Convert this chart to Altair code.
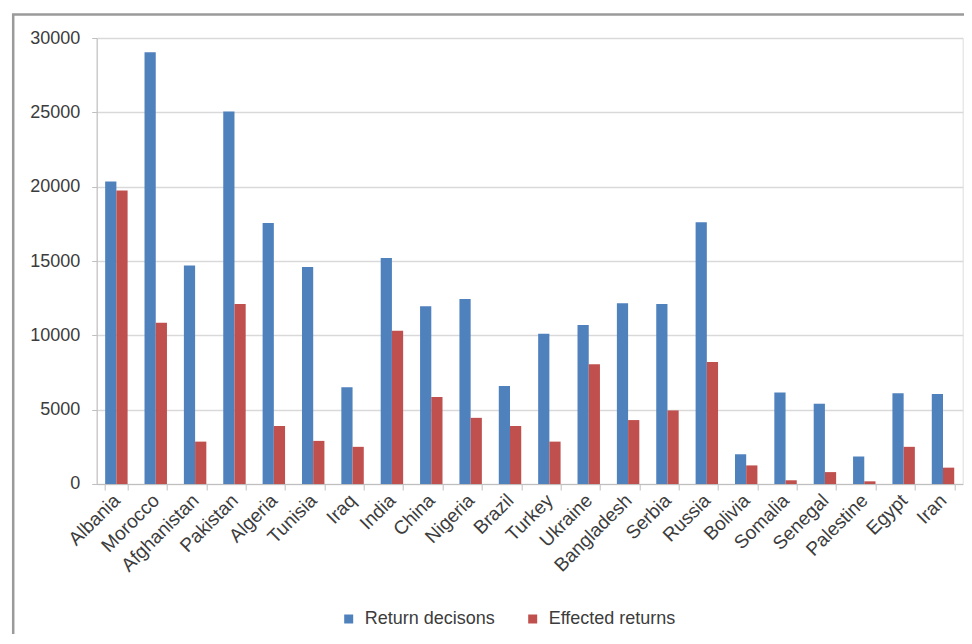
import altair as alt
import pandas as pd

countries = ["Albania", "Morocco", "Afghanistan", "Pakistan", "Algeria", "Tunisia",
             "Iraq", "India", "China", "Nigeria", "Brazil", "Turkey", "Ukraine",
             "Bangladesh", "Serbia", "Russia", "Bolivia", "Somalia", "Senegal",
             "Palestine", "Egypt", "Iran"]
return_decisions = [20350, 29050, 14700, 25050, 17550, 14600, 6500, 15200, 11950,
                    12450, 6600, 10100, 10700, 12150, 12100, 17600, 2000, 6150,
                    5400, 1850, 6100, 6050]
effected_returns = [19750, 10850, 2850, 12100, 3900, 2900, 2500, 10300, 5850,
                    4450, 3900, 2850, 8050, 4300, 4950, 8200, 1250, 250,
                    800, 180, 2500, 1100]
series = ["Return decisons", "Effected returns"]
y_ticks = [0, 5000, 10000, 15000, 20000, 25000, 30000]

rows = []
for c, a, b in zip(countries, return_decisions, effected_returns):
    rows.append({"country": c, "series": series[0], "value": a})
    rows.append({"country": c, "series": series[1], "value": b})
df = pd.DataFrame(rows)

FONT = "Liberation Sans"
TXT = "#3c3c3c"
W, H = 866, 446

bars = alt.Chart(df).mark_bar().encode(
    x=alt.X("country:N", sort=countries,
            scale=alt.Scale(paddingInner=0.43, paddingOuter=0.215),
            axis=alt.Axis(title=None, labelAngle=-45, labelAlign="right",
                          labelBaseline="middle", labelPadding=7,
                          tickBand="extent", tickSize=6, tickColor="#bfbfbf",
                          domainColor="#bfbfbf", labelFont=FONT, labelFontSize=19,
                          labelColor=TXT, grid=False)),
    xOffset=alt.XOffset("series:N", sort=series,
                        scale=alt.Scale(paddingInner=0, paddingOuter=0)),
    y=alt.Y("value:Q", scale=alt.Scale(domain=[0, 30000], nice=False),
            axis=alt.Axis(title=None, values=y_ticks, format="d", grid=True,
                          gridColor="#d9d9d9", gridWidth=1.5, domainColor="#bfbfbf",
                          tickColor="#bfbfbf", tickSize=5, labelPadding=12,
                          labelFont=FONT, labelFontSize=18, labelColor=TXT)),
    color=alt.Color("series:N", sort=series,
                    scale=alt.Scale(domain=series, range=["#4F81BD", "#C0504D"]),
                    legend=alt.Legend(title=None, orient="none", direction="horizontal",
                                      legendX=243, legendY=572, symbolType="square",
                                      symbolSize=81, symbolStrokeWidth=0,
                                      labelFont=FONT, labelFontSize=18, labelColor=TXT,
                                      labelOffset=7, columnPadding=28)),
)

frame = alt.Chart(pd.DataFrame({"k": [0]})).mark_rect(
    fill=None, stroke="#9a9a9a", strokeWidth=2.5, clip=False
).encode(x=alt.value(-83.5), x2=alt.value(W + 60),
         y=alt.value(-23.5), y2=alt.value(H + 300))

chart = alt.layer(bars, frame).properties(
    width=W, height=H,
    autosize=alt.AutoSizeParams(type="none"),
    padding={"left": 88.7, "top": 30, "right": 1, "bottom": 150},
).configure_view(stroke=None).configure(background="white")

chart.save("out.html", embed_options={"renderer": "svg", "actions": False})
